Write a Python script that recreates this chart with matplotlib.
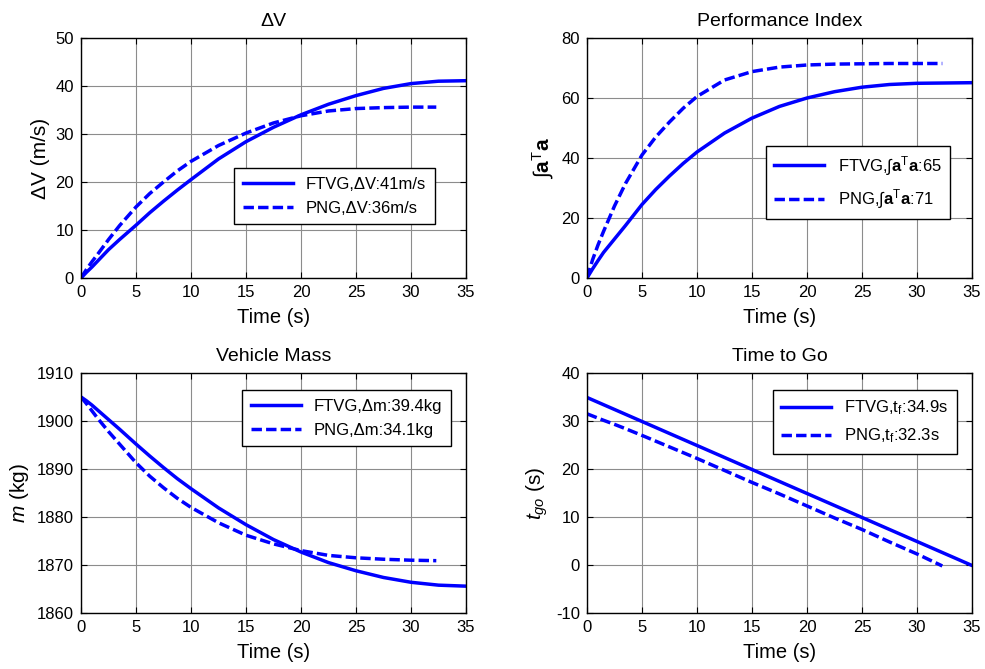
import matplotlib
matplotlib.use("Agg")
import matplotlib.pyplot as plt

plt.rcParams["font.family"] = ["Liberation Sans", "DejaVu Sans"]
plt.rcParams["mathtext.fontset"] = "custom"
plt.rcParams["mathtext.rm"] = "Liberation Sans"
plt.rcParams["mathtext.it"] = "Liberation Sans:italic"
plt.rcParams["mathtext.bf"] = "Liberation Sans:bold"
plt.rcParams["axes.unicode_minus"] = False

# time samples (s)
t_ftvg = [0, 0.5, 1, 1.5, 2.5, 3.5, 5, 6.25, 7.5, 8.75, 10, 12.5, 15, 17.5, 20, 22.5, 25,
          27.5, 30, 32.5, 34.9]
t_png = [0, 0.5, 1, 1.5, 2.5, 3.5, 5, 6.25, 7.5, 8.75, 10, 12.5, 15, 17.5, 20, 22.5, 25,
         27.5, 30, 32.3]

# delta V (m/s)
dv_ftvg = [0, 1.2, 2.3, 3.5, 5.9, 8.0, 11.0, 13.6, 16.0, 18.3, 20.5, 24.8, 28.4, 31.4, 34.0,
           36.2, 38.0, 39.5, 40.5, 41.0, 41.1]
dv_png = [0, 1.8, 3.4, 4.9, 8.0, 10.9, 14.8, 17.6, 20.0, 22.3, 24.3, 27.6, 30.2, 32.3, 33.8,
          34.8, 35.3, 35.5, 35.6, 35.6]

# performance index
pi_ftvg = [0, 3.0, 5.8, 8.5, 13.0, 17.5, 24.5, 29.5, 34.0, 38.2, 42.0, 48.3, 53.3, 57.2, 60.0,
           62.1, 63.6, 64.5, 64.9, 65.0, 65.1]
pi_png = [0, 6.0, 11.0, 15.5, 24.0, 31.5, 41.0, 47.0, 52.0, 56.6, 60.5, 66.0, 68.8, 70.3,
          71.0, 71.3, 71.4, 71.5, 71.5, 71.5]

# vehicle mass (kg)
m_ftvg = [1905.0, 1904.2, 1903.3, 1902.3, 1900.3, 1898.3, 1895.2, 1892.7, 1890.3, 1888.0,
          1885.9, 1881.9, 1878.4, 1875.3, 1872.7, 1870.5, 1868.8, 1867.4, 1866.4, 1865.8, 1865.6]
m_png = [1905.0, 1903.6, 1902.1, 1900.6, 1897.8, 1895.2, 1891.3, 1888.5, 1886.1, 1883.9,
         1882.0, 1878.8, 1876.2, 1874.4, 1873.0, 1872.0, 1871.5, 1871.2, 1871.0, 1870.9]

# time to go (s)
tgo_ftvg = [34.9, 34.4, 33.9, 33.4, 32.4, 31.4, 29.9, 28.65, 27.4, 26.15, 24.9, 22.4, 19.9,
            17.4, 14.9, 12.4, 9.9, 7.4, 4.9, 2.4, 0.0]
tgo_png = [31.5, 31.05, 30.6, 30.15, 29.3, 28.4, 27.0, 25.8, 24.6, 23.4, 22.2, 19.7, 17.2,
           14.8, 12.3, 9.8, 7.4, 4.8, 2.3, -0.2]

W, H = 985, 669
fig = plt.figure(figsize=(W / 100, H / 100), dpi=100)

def make_ax(x0, y0):
    return fig.add_axes([x0 / W, 1 - (y0 + 240) / H, 385 / W, 240 / H])

panels = [
    (make_ax(81, 38), "ΔV", "ΔV (m/s)", (0, 50), 10, dv_ftvg, dv_png,
     ["FTVG,ΔV:41m/s", "PNG,ΔV:36m/s"], "lower right", (0.94, 0.19)),
    (make_ax(587, 38), "Performance Index", r"∫$\mathbf{a}^{\mathrm{T}}\mathbf{a}$", (0, 80), 20,
     pi_ftvg, pi_png,
     [r"FTVG,∫$\mathbf{a}^{\mathrm{T}}\mathbf{a}$:65", r"PNG,∫$\mathbf{a}^{\mathrm{T}}\mathbf{a}$:71"],
     "lower right", (0.965, 0.21)),
    (make_ax(81, 373), "Vehicle Mass", r"$m$ (kg)", (1860, 1910), 10, m_ftvg, m_png,
     ["FTVG,Δm:39.4kg", "PNG,Δm:34.1kg"], "upper right", (0.982, 0.962)),
    (make_ax(587, 373), "Time to Go", r"$t_{go}$ (s)", (-10, 40), 10, tgo_ftvg, tgo_png,
     [r"FTVG,t$_{\mathrm{f}}$:34.9s", r"PNG,t$_{\mathrm{f}}$:32.3s"], "upper right", (0.982, 0.962)),
]

for ax, title, ylab, ylim, ystep, yf, yp, labels, loc, anchor in panels:
    ax.plot(t_ftvg, yf, color=(0, 0, 1), lw=2.5, label=labels[0])
    ax.plot(t_png, yp, color=(0, 0, 1), lw=2.5, dashes=(3, 1.2), label=labels[1])
    ax.set_xlim(0, 35)
    ax.set_ylim(*ylim)
    ax.set_xticks(range(0, 36, 5))
    ax.set_yticks(range(ylim[0], ylim[1] + 1, ystep))
    ax.grid(True, color="0.55", lw=0.8)
    ax.tick_params(direction="in", top=True, right=True, length=4, width=0.8,
                   labelsize=12, pad=5)
    for s in ax.spines.values():
        s.set_linewidth(1.0)
    ax.set_title(title, fontsize=14, pad=9)
    ax.set_xlabel("Time (s)", fontsize=14.5, labelpad=6)
    ax.set_ylabel(ylab, fontsize=15, labelpad=4)
    leg = ax.legend(loc=loc, bbox_to_anchor=anchor, fontsize=12, fancybox=False,
                    framealpha=1, edgecolor="black", handlelength=3.0,
                    borderpad=0.5, labelspacing=0.55)
    leg.get_frame().set_linewidth(1.0)

fig.savefig("out.png", dpi=100)
